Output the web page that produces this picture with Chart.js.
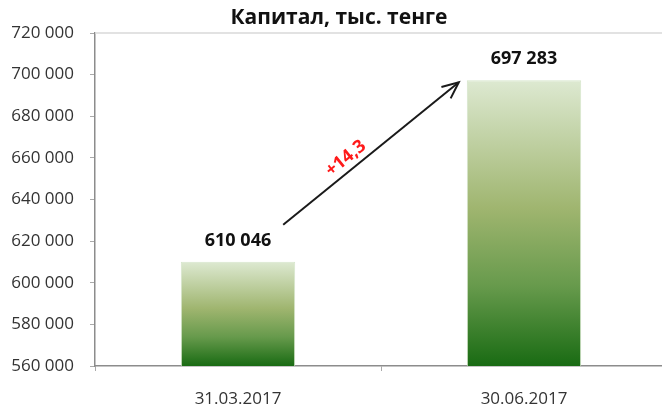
<!DOCTYPE html>
<html>
<head>
<meta charset="utf-8">
<script src="https://cdn.jsdelivr.net/npm/chart.js@4.4.0/dist/chart.umd.min.js"></script>
<style>
  html, body { margin: 0; padding: 0; background: #fff; overflow: hidden; }
  #wrap { width: 667px; height: 410px; position: relative; }
</style>
</head>
<body>
<div id="wrap"><canvas id="capital-chart"></canvas></div>
<script>
// Data
const periods = ['31.03.2017', '30.06.2017'];
const capital = [610046, 697283];
const growthLabel = '+14,3';
const chartTitle = 'Капитал, тыс. тенге';
const yMin = 560000;
const yMax = 720000;
const yStep = 20000;

const fmt = v => String(Math.round(v)).replace(/\B(?=(\d{3})+(?!\d))/g, ' ');

// bar fill: light at top, dark green at bottom, per bar
function barGradient(context) {
  const chart = context.chart;
  const yScale = chart.scales.y;
  if (!chart.chartArea || !yScale || context.raw === undefined) return '#7fa55a';
  const top = yScale.getPixelForValue(context.raw);
  const bottom = yScale.getPixelForValue(yMin);
  const g = chart.ctx.createLinearGradient(0, top, 0, bottom);
  g.addColorStop(0, '#dde9d1');
  g.addColorStop(0.45, '#9fb56f');
  g.addColorStop(0.72, '#679a4c');
  g.addColorStop(1, '#196b13');
  return g;
}

// title, value labels above bars, growth arrow
const annotations = {
  id: 'annotations',
  afterDatasetsDraw(chart) {
    const ctx = chart.ctx;
    const meta = chart.getDatasetMeta(0);
    ctx.save();
    ctx.textAlign = 'center';
    ctx.textBaseline = 'middle';

    ctx.fillStyle = '#111';
    ctx.font = 'bold 21px "Open Sans"';
    ctx.fillText(chartTitle, 339, 18);

    ctx.font = 'bold 18px "Open Sans"';
    meta.data.forEach((bar, i) => {
      ctx.fillText(fmt(capital[i]), bar.x, bar.y - 21);
    });

    const b1 = meta.data[0], b2 = meta.data[1];
    const x1 = b1.x + b1.width / 2 - 12, y1 = b1.y - 37;
    const x2 = b2.x - b2.width / 2 - 8, y2 = b2.y + 2;
    ctx.strokeStyle = '#1a1a1a';
    ctx.lineWidth = 2;
    ctx.beginPath();
    ctx.moveTo(x1, y1);
    ctx.lineTo(x2, y2);
    ctx.stroke();
    const ang = Math.atan2(y2 - y1, x2 - x1);
    const head = 18;
    ctx.beginPath();
    ctx.moveTo(x2 - head * Math.cos(ang - 0.42), y2 - head * Math.sin(ang - 0.42));
    ctx.lineTo(x2, y2);
    ctx.lineTo(x2 - head * Math.cos(ang + 0.42), y2 - head * Math.sin(ang + 0.42));
    ctx.stroke();

    // growth text along the arrow
    const mx = x1 + (x2 - x1) * 0.4, my = y1 + (y2 - y1) * 0.4;
    ctx.translate(mx + 12 * Math.sin(ang), my - 12 * Math.cos(ang));
    ctx.rotate(ang);
    ctx.fillStyle = '#ff1a1a';
    ctx.font = 'bold 18px "Open Sans"';
    ctx.fillText(growthLabel, 0, 0);
    ctx.restore();
  }
};

// only the top line of the plot is drawn as a grid line
const topLine = {
  id: 'topLine',
  beforeDatasetsDraw(chart) {
    const { ctx, chartArea } = chart;
    const y = chart.scales.y.getPixelForValue(yMax);
    ctx.save();
    ctx.strokeStyle = '#d9d9d9';
    ctx.lineWidth = 1.5;
    ctx.beginPath();
    ctx.moveTo(chartArea.left, y);
    ctx.lineTo(chartArea.right, y);
    ctx.stroke();
    ctx.restore();
  }
};

new Chart(document.getElementById('capital-chart').getContext('2d'), {
  type: 'bar',
  data: {
    labels: periods,
    datasets: [{
      data: capital,
      backgroundColor: barGradient,
      borderColor: '#d6e6cc',
      borderWidth: 1,
      barPercentage: 0.4,
      categoryPercentage: 1
    }]
  },
  options: {
    responsive: true,
    maintainAspectRatio: false,
    animation: false,
    layout: { padding: { top: 33, left: 0, right: 0, bottom: 0 } },
    plugins: {
      legend: { display: false },
      tooltip: { enabled: false },
      title: { display: false }
    },
    scales: {
      x: {
        afterFit: scale => { scale.height = 44; },
        grid: {
          display: true,
          drawOnChartArea: false,
          offset: true,
          tickLength: 5,
          tickColor: '#aaaaaa'
        },
        border: { color: '#8c8c8c', width: 1.5 },
        ticks: {
          color: '#333',
          font: { family: 'Open Sans', size: 17 },
          padding: 18
        }
      },
      y: {
        min: yMin,
        max: yMax,
        afterFit: scale => { scale.width = 95; },
        grid: {
          drawOnChartArea: false,
          tickLength: 5,
          tickColor: '#aaaaaa'
        },
        border: { color: '#8c8c8c', width: 1.5 },
        ticks: {
          stepSize: yStep,
          color: '#333',
          font: { family: 'Open Sans', size: 17 },
          padding: 16,
          callback: v => fmt(v)
        }
      }
    }
  },
  plugins: [topLine, annotations]
});
</script>
</body>
</html>
